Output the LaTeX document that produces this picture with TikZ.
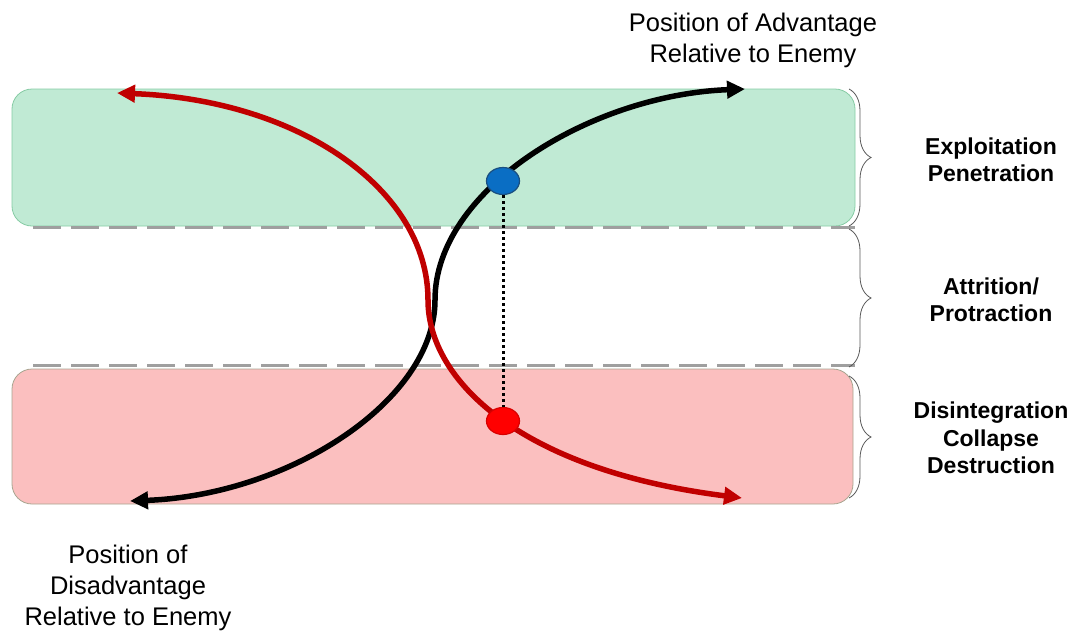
\documentclass[tikz,border=0pt]{standalone}
\usepackage{fontspec}
\setmainfont{Liberation Sans}
\usetikzlibrary{arrows.meta,decorations.pathreplacing,shapes.geometric}
\definecolor{zonegreen}{HTML}{C0EAD4}
\definecolor{zonegreenline}{HTML}{86CBA4}
\definecolor{zonered}{HTML}{FBBFBF}
\definecolor{zoneredline}{HTML}{A8A590}
\definecolor{curvered}{HTML}{C00000}
\definecolor{dotblue}{HTML}{0A6EC4}
\definecolor{dotblueline}{HTML}{1A4F80}
\definecolor{dotred}{HTML}{FF0000}
\definecolor{dotredline}{HTML}{D80000}
\tikzset{
  zone/.style={rounded corners=20pt,line width=0.8pt},
  sepline/.style={draw=gray!75,line width=2.5pt,dash pattern=on 28pt off 10pt},
  trend/.style={line width=5.5pt,-{Triangle[length=18pt,width=17pt]}},
  brc/.style={draw=gray!70!black,line width=0.8pt,decorate,decoration={brace,amplitude=22pt}},
  zonelbl/.style={font=\bfseries\fontsize{23}{27.5}\selectfont,align=center},
  poslbl/.style={font=\fontsize{25.5}{31}\selectfont,align=center},
  dot/.style={ellipse,minimum width=33pt,minimum height=27pt,inner sep=0pt,line width=1.2pt}
}
\begin{document}
\begin{tikzpicture}[x=1pt,y=-1pt]
  \useasboundingbox (0,0) rectangle (1073,632);
  % zones
  \draw[zone,fill=zonegreen,draw=zonegreenline] (12,89) rectangle (855,226);
  \draw[zone,fill=zonered,draw=zoneredline] (12,369) rectangle (853,504);
  \draw[sepline] (33,227.5) -- (855,227.5);
  \draw[sepline] (33,365.5) -- (855,365.5);
  % curves
  \coordinate (bkmid) at (435,300);
  \coordinate (bktop) at (745,89);
  \coordinate (bkbot) at (130,501);
  \coordinate (rdmid) at (428,300);
  \coordinate (rdtop) at (117,93);
  \coordinate (rdbot) at (742,498);
  \draw[trend,black] (bkmid) .. controls (435,190) and (590,95) .. (bktop);
  \draw[trend,black] (bkmid) .. controls (435,400) and (290,495) .. (bkbot);
  \draw[trend,curvered] (rdmid) .. controls (428,190) and (300,100) .. (rdtop);
  \draw[trend,curvered] (rdmid) .. controls (428,380) and (520,470) .. (rdbot);
  % dots
  \node[dot,fill=dotblue,draw=dotblueline] (adv) at (503,181) {};
  \node[dot,fill=dotred,draw=dotredline] (dis) at (503,421) {};
  \draw[line width=3pt,dash pattern=on 3pt off 3pt] (adv) -- (dis);
  % braces
  \coordinate (b1a) at (849,89);  \coordinate (b1b) at (849,226);
  \coordinate (b2a) at (849,229); \coordinate (b2b) at (849,367);
  \coordinate (b3a) at (849,376); \coordinate (b3b) at (849,498);
  \draw[brc] (b1a) -- (b1b);
  \draw[brc] (b2a) -- (b2b);
  \draw[brc] (b3a) -- (b3b);
  % labels
  \node[zonelbl] (expl) at (991,160) {Exploitation\\Penetration};
  \node[zonelbl] (attr) at (991,300) {Attrition/\\Protraction};
  \node[zonelbl] (disi) at (991,438) {Disintegration\\Collapse\\Destruction};
  \node[poslbl] (adlbl) at (753,40) {Position of Advantage\\Relative to Enemy};
  \node[poslbl] (dislbl) at (128,588) {Position of\\Disadvantage\\Relative to Enemy};
\end{tikzpicture}
\end{document}
